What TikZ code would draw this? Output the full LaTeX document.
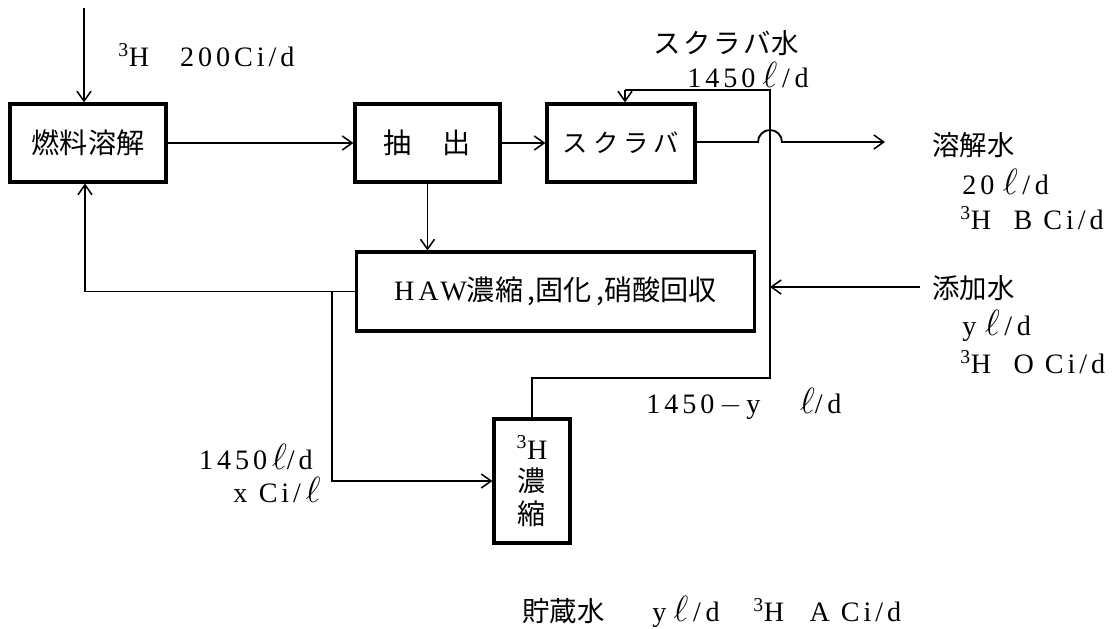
\documentclass[tikz,border=0pt]{standalone}
\usepackage{fontspec}
\setmainfont{Liberation Serif}[LetterSpace=14]
\newfontfamily\jp{Noto Sans CJK JP}
\usetikzlibrary{arrows.meta}
\newcommand\myell{\scalebox{1.25}{$\ell$}}
\tikzset{
  x=0.025cm, y=0.025cm,
  box/.style={draw, line width=2.2pt, inner sep=0pt, font=\jp\fontsize{20}{24}\selectfont},
  conn/.style={line width=1.3pt},
  arr/.style={conn, -{Straight Barb[length=7pt,width=10pt,line width=1.1pt]}},
  lbl/.style={anchor=west, inner sep=0pt, font=\fontsize{20}{24}\selectfont},
  jlbl/.style={anchor=west, inner sep=0pt, font=\jp\fontsize{19.5}{24}\selectfont},
}
\begin{document}
\begin{tikzpicture}
\useasboundingbox (0,0) rectangle (1120,-629);
% boxes
\node[box, minimum width=3.9cm, minimum height=1.95cm] (fuel) at (88,-143) {燃料溶解};
\node[box, minimum width=3.625cm, minimum height=1.95cm] (ext) at (427.5,-143) {抽\hspace{1.1em}出};
\node[box, minimum width=3.7cm, minimum height=1.95cm, font=\jp\fontsize{18}{22}\selectfont] (scr) at (621,-143) {ス\hspace{0.2em}ク\hspace{0.2em}ラ\hspace{0.2em}バ};
\node[box, minimum width=9.925cm, minimum height=1.975cm] (haw) at (555.5,-291.5) {{\fontsize{20}{24}\selectfont\rmfamily HAW}濃縮\,,固化\,,硝酸回収};
\node[box, minimum width=1.9cm, minimum height=3.1cm, align=center] (h3) at (532,-481)
  {{\fontsize{20}{24}\selectfont\rmfamily\textsuperscript{3}H}\\[-1pt]濃\\[-1pt]縮};
% coordinates
\coordinate (in1) at (84,-8);
\coordinate (jmp) at (770,-142);
\coordinate (outtip) at (885,-142);
\coordinate (swtop) at (770,-90);
\coordinate (swdrop) at (625,-90);
\coordinate (lowcorner) at (770,-378);
\coordinate (addstart) at (920,-287);
\coordinate (leftcorner) at (85,-291.5);
\coordinate (branch) at (332,-291.5);
% connectors
\draw[arr] (in1) -- (in1 |- fuel.north);
\draw[arr] (fuel.east) -- (ext.west);
\draw[arr] (ext.east) -- (scr.west);
\draw[arr] (ext.south) -- (ext.south |- haw.north);
\draw[arr] (scr.east |- jmp) -- ([xshift=-12*0.025cm]jmp) arc (180:0:12) -- (outtip);
\draw[conn] (h3.north) -- (h3.north |- lowcorner) -- (lowcorner) -- (swtop) -- (swdrop);
\draw[arr] (swdrop) -- (swdrop |- scr.north);
\draw[arr] (addstart) -- (addstart -| lowcorner);
\draw[arr] (haw.west) -- (leftcorner) -- (leftcorner |- fuel.south);
\draw[arr] (branch) -- (branch |- h3.west) -- (h3.west);
% labels
\node[lbl] (l200) at (118,-55) {\textsuperscript{3}H\hspace{1.1em}200Ci/d};
\node[jlbl] (lsw) at (653,-43) {ス\hspace{0.1em}ク\hspace{0.1em}ラ\hspace{0.1em}バ水};
\node[lbl] (lsw2) at (687,-75) {1450\hspace{0.25em}\myell\,/\,d};
\node[jlbl] (ldis) at (932,-145) {溶解水};
\node[lbl] (ldis2) at (962,-182) {20\hspace{0.3em}\myell\,/\,d};
\node[lbl] (ldis3) at (960,-218) {\textsuperscript{3}H\hspace{0.8em}B Ci/d};
\node[jlbl] (ladd) at (932,-288) {添加水};
\node[lbl] (ladd2) at (962,-326) {y\hspace{0.3em}\myell\,/\,d};
\node[lbl] (ladd3) at (960,-362) {\textsuperscript{3}H\hspace{0.8em}O Ci/d};
\node[lbl] (lret) at (646,-404) {1450\,$-$\,y\hspace{1.4em}\myell/\,d};
\node[lbl, anchor=east] (lbr1) at (313,-457) {1450\,\myell/d};
\node[lbl, anchor=east] (lbr2) at (321,-490) {x\hspace{0.4em}Ci/\,\myell};
\node[lbl] (lsto) at (522,-612) {{\jp\fontsize{19.5}{24}\selectfont 貯蔵水}\hspace{1.7em}y\hspace{0.25em}\myell\,/\,d\hspace{1.2em}\textsuperscript{3}H\hspace{0.9em}A Ci/d};
\end{tikzpicture}
\end{document}
